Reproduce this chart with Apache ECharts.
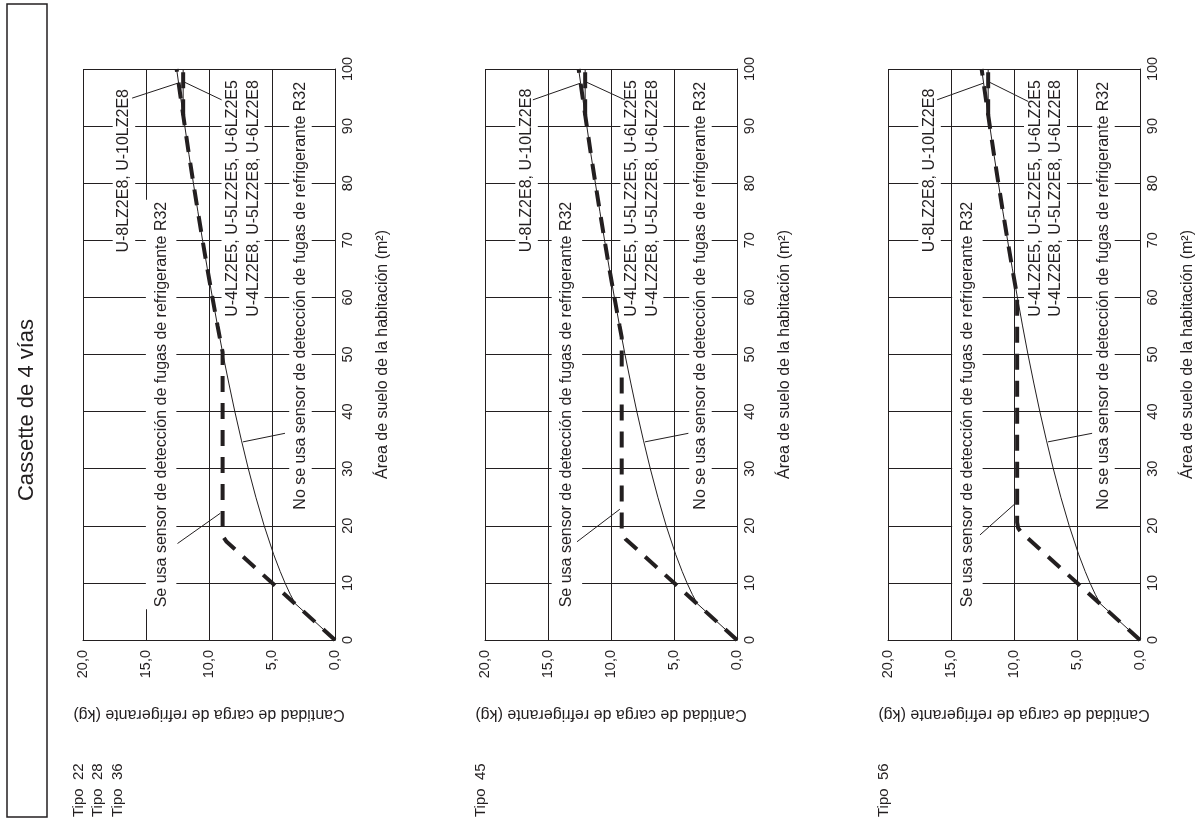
<!DOCTYPE html>
<html><head><meta charset="utf-8">
<script src="https://cdn.jsdelivr.net/npm/echarts@6/dist/echarts.min.js"></script>
<style>html,body{margin:0;padding:0;background:#fff}#c{width:1203px;height:821px}</style>
</head><body><div id="c"></div>
<script>
// ---------- data ----------
const kgTicks = [0, 5, 10, 15, 20];
const kgTickLabels = ['0,0', '5,0', '10,0', '15,0', '20,0'];
const areaTicks = [0, 10, 20, 30, 40, 50, 60, 70, 80, 90, 100];
const areaTickLabels = ['0', '10', '20', '30', '40', '50', '60', '70', '80', '90', '100'];
const typeLabels = ['Tipo  22\nTipo  28\nTipo  36', 'Tipo  45', 'Tipo  56'];
const mainTitle = 'Cassette de 4 vías';
const kgAxisName = 'Cantidad de carga de refrigerante (kg)';
const areaAxisName = 'Área de suelo de la habitación (m²)';
const textNoSensor = 'No se usa sensor de detección de fugas de refrigerante R32';
const textSensor = 'Se usa sensor de detección de fugas de refrigerante R32';
const textBig = 'U-8LZ2E8, U-10LZ2E8';
const textSmall = 'U-4LZ2E5, U-5LZ2E5, U-6LZ2E5\nU-4LZ2E8, U-5LZ2E8, U-6LZ2E8';

// "No se usa sensor" curve (same in all three panels): area (m²) / charge (kg)
const noSensorArea = [0, 6.4, 8, 10, 12, 15, 20, 25, 30, 35, 40, 45, 50, 55, 60, 65, 70, 75, 80, 85, 90, 95, 100];
const noSensorKg   = [0, 3.17, 3.55, 3.97, 4.35, 4.87, 5.62, 6.28, 6.88, 7.43, 7.95, 8.43, 8.89, 9.32, 9.73, 10.13, 10.51, 10.88, 11.24, 11.59, 11.92, 12.25, 12.57];
// cap branch for U-4/5/6 units at the top
const capArea = [91.9, 100];
const capKg   = [12.05, 12.05];

// "Se usa sensor" curves per panel
const sensorArea1 = [0, 17.2, 17.9, 18.9, 50.4, 55, 60, 65, 70, 75, 80, 85, 90, 95, 100];
const sensorKg1   = [0, 8.6, 8.82, 8.92, 8.92, 9.32, 9.73, 10.13, 10.51, 10.88, 11.24, 11.59, 11.92, 12.25, 12.57];
const sensorArea2 = [0, 17.7, 18.4, 19.4, 53.0, 55, 60, 65, 70, 75, 80, 85, 90, 95, 100];
const sensorKg2   = [0, 8.85, 9.07, 9.15, 9.15, 9.32, 9.73, 10.13, 10.51, 10.88, 11.24, 11.59, 11.92, 12.25, 12.57];
const sensorArea3 = [0, 18.9, 19.6, 20.6, 60.2, 65, 70, 75, 80, 85, 90, 95, 100];
const sensorKg3   = [0, 9.45, 9.67, 9.75, 9.75, 10.13, 10.51, 10.88, 11.24, 11.59, 11.92, 12.25, 12.57];

// leader lines [kg, area] -> [kg, area]
const leaders1 = [[[12.5, 16.9], [9.1, 22.2]], [[3.97, 36.2], [7.3, 34.7]], [[16.1, 94.9], [12.5, 97.5]], [[9.0, 94.6], [12.05, 97.8]]];
const leaders2 = [[[12.7, 17.2], [9.3, 22.9]], [[3.86, 36.2], [7.3, 34.7]], [[16.2, 94.6], [12.45, 97.5]], [[8.9, 94.6], [12.05, 97.8]]];
const leaders3 = [[[12.7, 18.4], [9.9, 23.9]], [[3.8, 36.2], [7.3, 34.7]], [[16.1, 94.6], [12.45, 97.5]], [[8.86, 94.3], [12.05, 97.8]]];

// ---------- layout ----------
const FONT = '"Liberation Sans", Arial, Helvetica, sans-serif';
const INK = '#231f20';
const gridLefts = [83, 485, 888];
const GRID_TOP = 69, GRID_W = 252, GRID_H = 571;
// text anchors (top end of the rotated text) in data coords [kg, area]
const textAnchors = [
  {big: [16.75, 96.85], sensor: [13.8, 77.1], small: [7.3, 98.4], no: [2.74, 98.1]},
  {big: [16.7, 96.9], sensor: [13.5, 77.1], small: [7.55, 98.4], no: [2.9, 98.1]},
  {big: [16.7, 96.9], sensor: [13.7, 77.1], small: [7.5, 98.4], no: [2.9, 98.1]}
];

const zip = (a, k) => a.map((v, i) => [k[i], v]);
const sensorSets = [[sensorArea1, sensorKg1], [sensorArea2, sensorKg2], [sensorArea3, sensorKg3]];
const leaderSets = [leaders1, leaders2, leaders3];

const grids = [], xAxes = [], yAxes = [], series = [];
gridLefts.forEach((left, i) => {
  grids.push({left: left, top: GRID_TOP, width: GRID_W, height: GRID_H, outerBoundsMode: 'none', containLabel: false});
  xAxes.push({
    type: 'value', gridIndex: i, min: 0, max: 20, interval: 5, inverse: true, position: 'bottom',
    axisLine: {show: true, onZero: false, lineStyle: {color: INK, width: 1}},
    axisTick: {show: false},
    splitLine: {show: true, showMinLine: true, showMaxLine: true, lineStyle: {color: INK, width: 1}},
    axisLabel: {rotate: 90, margin: 10, color: INK, fontSize: 14.5, fontFamily: FONT,
      formatter: v => kgTickLabels[kgTicks.indexOf(v)] ?? ''},
    name: kgAxisName, nameLocation: 'middle', nameRotate: 180, nameGap: 66,
    nameTextStyle: {color: INK, fontSize: 16, fontFamily: FONT}
  });
  yAxes.push({
    type: 'value', gridIndex: i, min: 0, max: 100, interval: 10, position: 'right',
    axisLine: {show: true, onZero: false, lineStyle: {color: INK, width: 1}},
    axisTick: {show: false},
    splitLine: {show: true, showMinLine: true, showMaxLine: true, lineStyle: {color: INK, width: 1}},
    axisLabel: {rotate: 90, margin: 5, color: INK, fontSize: 14.5, fontFamily: FONT,
      formatter: v => areaTickLabels[areaTicks.indexOf(v)] ?? ''},
    name: areaAxisName, nameLocation: 'middle', nameRotate: 90, nameGap: 40,
    nameTextStyle: {color: INK, fontSize: 16, fontFamily: FONT}
  });
  const base = {type: 'line', xAxisIndex: i, yAxisIndex: i, symbol: 'none', showSymbol: false, silent: true, animation: false};
  series.push(Object.assign({}, base, {name: 'sin sensor', z: 3, data: zip(noSensorArea, noSensorKg), lineStyle: {color: INK, width: 1}}));
  series.push(Object.assign({}, base, {name: 'tope', z: 3, data: zip(capArea, capKg), lineStyle: {color: INK, width: 1}}));
  const [sa, sk] = sensorSets[i];
  series.push(Object.assign({}, base, {name: 'con sensor', z: 4, data: zip(sa, sk), lineStyle: {color: INK, width: 4, type: [16, 11], cap: 'butt'}}));
  series.push(Object.assign({}, base, {name: 'tope sensor', z: 4, data: zip(capArea, capKg), lineStyle: {color: INK, width: 4, type: [16, 11], cap: 'butt'}}));
  leaderSets[i].forEach(seg => {
    series.push(Object.assign({}, base, {name: 'guía', z: 5, data: seg, lineStyle: {color: INK, width: 1}}));
  });
});

const chart = echarts.init(document.getElementById('c'), null, {renderer: 'canvas'});
chart.setOption({animation: false, backgroundColor: '#fff', grid: grids, xAxis: xAxes, yAxis: yAxes, series: series});

// ---------- annotations ----------
const g = [];
g.push({type: 'rect', z: 1, shape: {x: 7, y: 4, width: 40, height: 813}, style: {fill: 'none', stroke: INK, lineWidth: 1.5}});
g.push({type: 'text', z: 1, x: 27, y: 410, rotation: Math.PI / 2,
  style: {text: mainTitle, fill: INK, font: '22px ' + FONT, align: 'center', verticalAlign: 'middle'}});
const rtext = (pos, txt, pad) => ({type: 'text', z: 1, x: pos[0], y: pos[1], rotation: Math.PI / 2,
  style: {text: txt, fill: INK, font: '16px ' + FONT, align: 'right', verticalAlign: 'middle',
    lineHeight: 20.5, backgroundColor: '#fff', padding: pad}});
gridLefts.forEach((left, i) => {
  const f = {xAxisIndex: i, yAxisIndex: i};
  const a = textAnchors[i];
  g.push(rtext(chart.convertToPixel(f, a.big), textBig, [1, 2, 1, 2]));
  g.push(rtext(chart.convertToPixel(f, a.sensor), textSensor, [5, 2, 5, 2]));
  g.push(rtext(chart.convertToPixel(f, a.small), textSmall, [1, 2, 1, 2]));
  g.push(rtext(chart.convertToPixel(f, a.no), textNoSensor, [1, 2, 1, 2]));
  g.push({type: 'text', z: 1, x: left - 14, y: 817, rotation: Math.PI / 2,
    style: {text: typeLabels[i], fill: INK, font: '15px ' + FONT, align: 'left', verticalAlign: 'top', lineHeight: 19.5}});
});
chart.setOption({graphic: g});
</script></body></html>
